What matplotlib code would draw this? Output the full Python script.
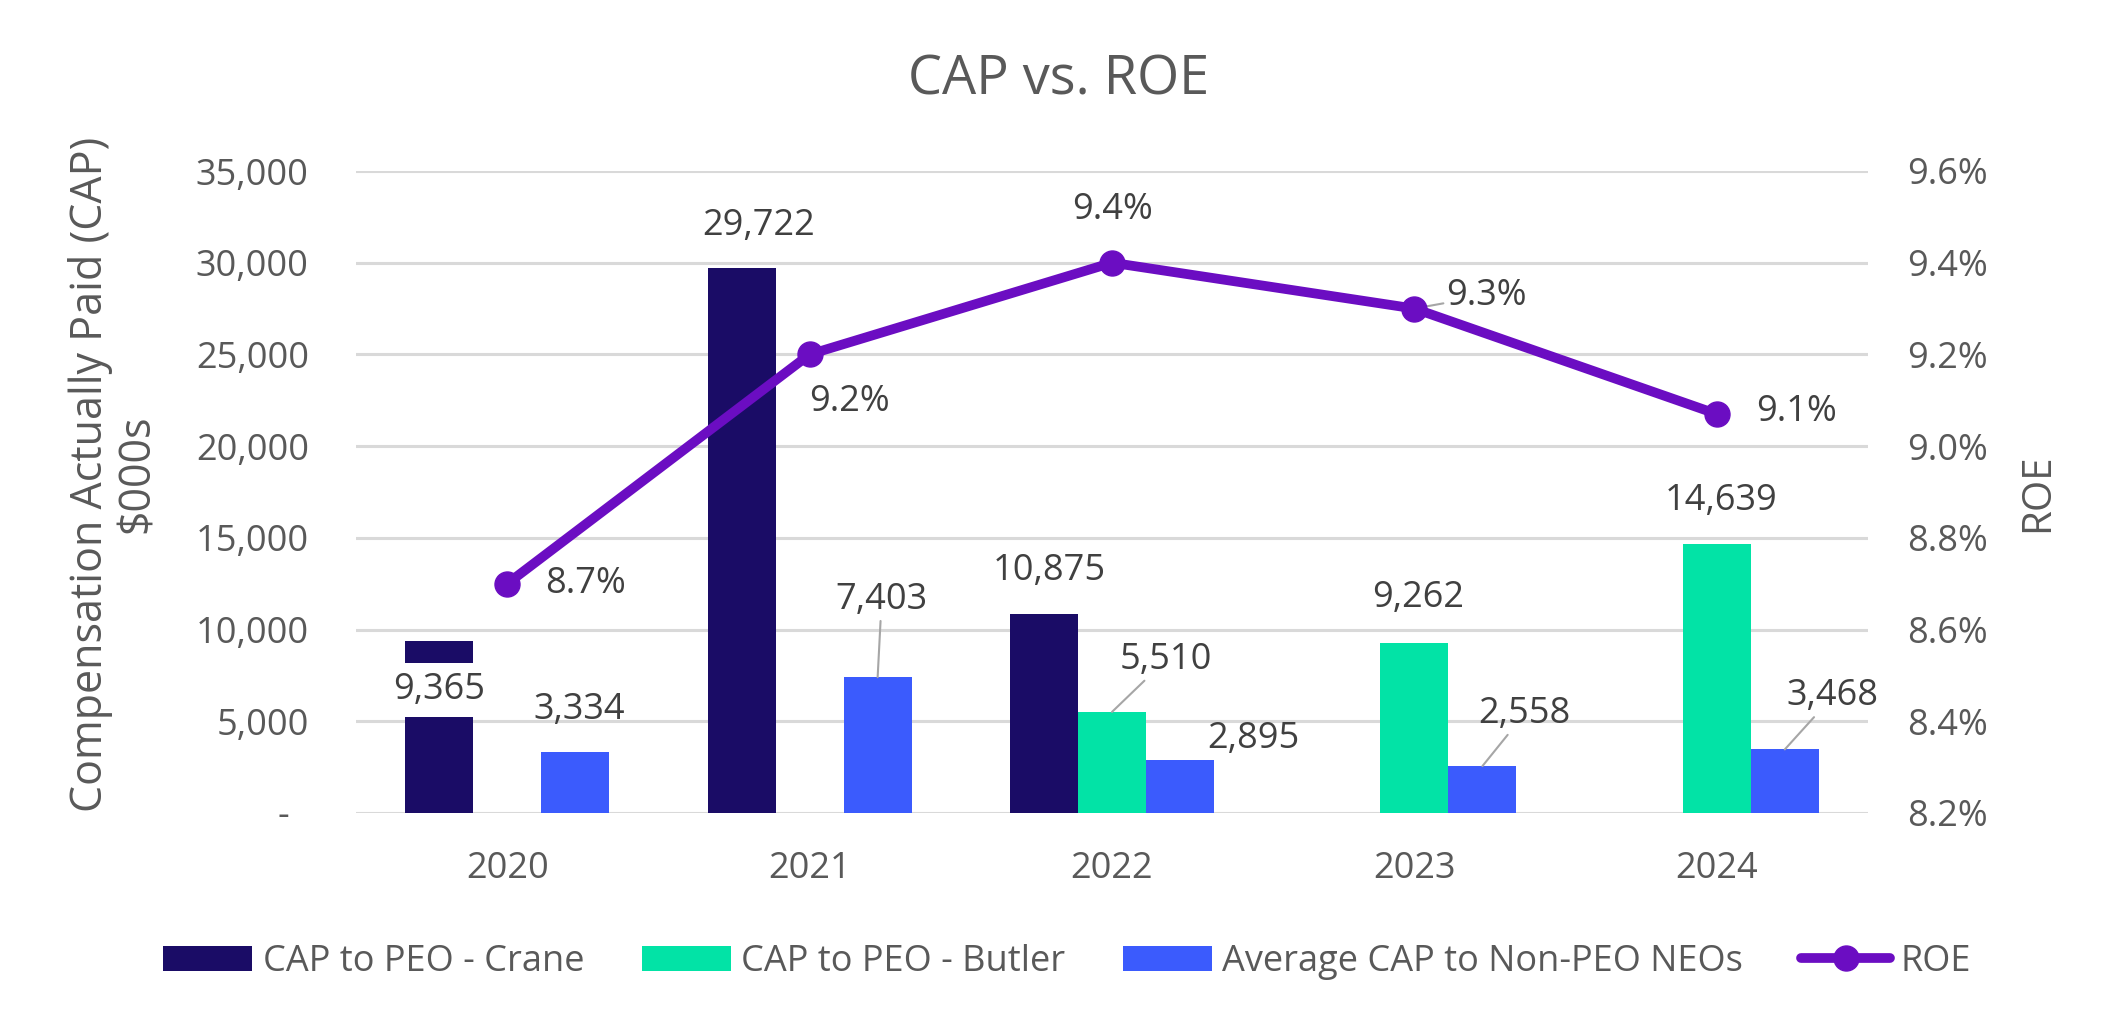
import matplotlib.pyplot as plt
from matplotlib.lines import Line2D
from matplotlib.patches import Patch
from matplotlib.ticker import FuncFormatter, MultipleLocator
import numpy as np


YEARS = ["2020", "2021", "2022", "2023", "2024"]
CAP_CRANE = [9365, 29722, 10875, 0, 0]
CAP_BUTLER = [0, 0, 5510, 9262, 14639]
CAP_NON_PEO = [3334, 7403, 2895, 2558, 3468]
ROE = [8.70, 9.20, 9.40, 9.30, 9.07]

SERIES_LABELS = ["CAP to PEO - Crane", "CAP to PEO - Butler", "Average CAP to Non-PEO NEOs"]
ROE_LABEL = "ROE"

COLOR_CRANE = "#1A0C66"
COLOR_BUTLER = "#02E3A6"
COLOR_NON_PEO = "#3B5BFD"
COLOR_ROE = "#6B0DC2"
TEXT_DARK = "#404040"
TEXT_GREY = "#595959"
GRID = "#D9D9D9"
LEADER = "#A6A6A6"

# label placement (offset pixels from the mark, leader line on/off)
CRANE_LABEL_POS = {0: (0, -49, False), 1: (17, 42, False), 2: (5, 43, False)}
BUTLER_LABEL_POS = {2: (54, 52, True), 3: (4, 45, False), 4: (4, 43, False)}
NON_PEO_LABEL_POS = {0: (4, 42, False), 1: (4, 77, True), 2: (73, 21, False),
                     3: (42, 52, True), 4: (48, 53, True)}
ROE_LABEL_POS = {0: (78, 0, False), 1: (40, -48, False), 2: (0, 53, False),
                 3: (72, 13, True), 4: (80, 2, False)}

plt.rcParams["font.family"] = ["Open Sans", "DejaVu Sans"]


def cap_fmt(value, _pos):
    if abs(value) < 1e-9:
        return "-  "
    return f"{value:,.0f}"


def label_bars(ax, x_values, values, placements, boxes=None):
    boxes = boxes or {}
    for idx, (dx, dy, leader) in placements.items():
        arrow = None
        if leader:
            arrow = dict(arrowstyle="-", color=LEADER, lw=1.5, shrinkA=0, shrinkB=0)
        ax.annotate(
            f"{values[idx]:,}",
            xy=(x_values[idx], values[idx]),
            xytext=(dx, dy),
            textcoords="offset pixels",
            ha="center",
            va="center",
            fontsize=26,
            color=TEXT_DARK,
            arrowprops=arrow,
            bbox=boxes.get(idx),
            zorder=5,
        )


fig = plt.figure(figsize=(21.1, 10.23), dpi=100)
ax = fig.add_axes([356 / 2110, 1 - 813 / 1023, 1512 / 2110, 642 / 1023])

x = np.arange(len(YEARS))
width = 0.225
ax.bar(x - width, CAP_CRANE, width, color=COLOR_CRANE, zorder=2)
ax.bar(x, CAP_BUTLER, width, color=COLOR_BUTLER, zorder=2)
ax.bar(x + width, CAP_NON_PEO, width, color=COLOR_NON_PEO, zorder=2)

ax.set_xlim(-0.5, len(YEARS) - 0.5)
ax.set_ylim(0, 35000)
ax.yaxis.set_major_locator(MultipleLocator(5000))
ax.yaxis.set_major_formatter(FuncFormatter(cap_fmt))
ax.set_xticks(x)
ax.set_xticklabels(YEARS)
ax.grid(axis="y", color=GRID, linewidth=2.2, zorder=0)
ax.set_axisbelow(True)
for spine in ax.spines.values():
    spine.set_visible(False)
ax.tick_params(axis="y", length=0, pad=34, labelsize=26, labelcolor=TEXT_GREY)
ax.tick_params(axis="x", length=0, pad=27, labelsize=26, labelcolor=TEXT_GREY)

white_box = {0: dict(facecolor="white", edgecolor="none", boxstyle="square,pad=0.25")}
label_bars(ax, x - width, CAP_CRANE, CRANE_LABEL_POS, white_box)
label_bars(ax, x, CAP_BUTLER, BUTLER_LABEL_POS)
label_bars(ax, x + width, CAP_NON_PEO, NON_PEO_LABEL_POS)

ax2 = ax.twinx()
ax2.plot(x, ROE, color=COLOR_ROE, linewidth=7, marker="o", markersize=18,
         solid_capstyle="round", zorder=4)
ax2.set_ylim(8.2, 9.6)
ax2.yaxis.set_major_locator(MultipleLocator(0.2))
ax2.yaxis.set_major_formatter(FuncFormatter(lambda v, _p: f"{v:.1f}%"))
for spine in ax2.spines.values():
    spine.set_visible(False)
ax2.tick_params(axis="y", length=0, pad=28, labelsize=26, labelcolor=TEXT_GREY)

for idx, (dx, dy, leader) in ROE_LABEL_POS.items():
    arrow = None
    if leader:
        arrow = dict(arrowstyle="-", color=LEADER, lw=1.5, shrinkA=0, shrinkB=9)
    ax2.annotate(
        f"{ROE[idx]:.1f}%",
        xy=(x[idx], ROE[idx]),
        xytext=(dx, dy),
        textcoords="offset pixels",
        ha="center",
        va="center",
        fontsize=26,
        color=TEXT_DARK,
        arrowprops=arrow,
    )

fig.text(1059 / 2110, 1 - 80 / 1023, "CAP vs. ROE", fontsize=39, color=TEXT_GREY,
         ha="center", va="center")
fig.text(114 / 2110, 1 - 474 / 1023, "Compensation Actually Paid (CAP)\n$000s",
         fontsize=31, color=TEXT_GREY, rotation=90, ha="center", va="center",
         multialignment="center", linespacing=1.05)
fig.text(2038 / 2110, 1 - 493 / 1023, "ROE", fontsize=29, color=TEXT_GREY,
         rotation=90, ha="center", va="center")

handles = [
    Patch(facecolor=COLOR_CRANE, label=SERIES_LABELS[0]),
    Patch(facecolor=COLOR_BUTLER, label=SERIES_LABELS[1]),
    Patch(facecolor=COLOR_NON_PEO, label=SERIES_LABELS[2]),
    Line2D([0], [0], color=COLOR_ROE, linewidth=7, marker="o", markersize=18,
           solid_capstyle="round", label=ROE_LABEL),
]
leg = fig.legend(handles=handles, loc="center", bbox_to_anchor=(1067 / 2110, 1 - 962 / 1023),
                 ncol=4, frameon=False, fontsize=26, handlelength=2.47, handletextpad=0.28,
                 columnspacing=1.6, labelcolor=TEXT_GREY)

fig.savefig("out.png")
